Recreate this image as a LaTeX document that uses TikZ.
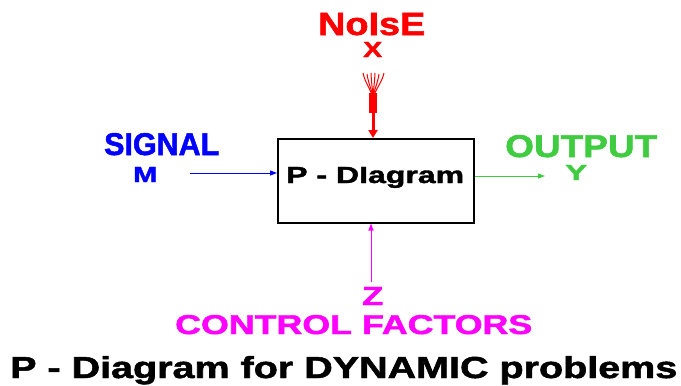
\documentclass[tikz,border=0pt]{standalone}
\usepackage{fontspec}
\setmainfont{Liberation Sans}
\newfontfamily\heavyfont[FakeBold=1.6]{Liberation Sans Bold}
\usetikzlibrary{arrows.meta,calc}
\definecolor{sigblue}{RGB}{0,0,255}
\definecolor{noisered}{RGB}{255,0,0}
\definecolor{outgreen}{RGB}{64,204,64}
\definecolor{ctrlmag}{RGB}{255,0,255}
\newcommand{\fitbox}[3]{\resizebox{#1pt}{#2pt}{\heavyfont #3}}
\begin{document}
\begin{tikzpicture}[x=1pt,y=-1pt,
  lbl/.style={inner sep=0pt, anchor=base west},
  conn/.style={line width=1pt, -{Triangle[length=7pt,width=5pt]}},
  fan/.style={noisered, line width=1pt},
  ]
\useasboundingbox (0,0) rectangle (681,386);
% main box
\node[draw, line width=1.5pt, minimum width=196pt, minimum height=84pt, inner sep=0pt, anchor=north west] (box) at (277,138) {};
\node[lbl] (boxlabel) at (286,183) {\fitbox{178}{16}{P - DIagram}};
% noise
\node[lbl, text=noisered] (noise) at (318,35) {\fitbox{107}{22}{NoIsE}};
\node[lbl, text=noisered] (x) at (363,57) {\fitbox{19}{15}{X}};
\coordinate (noisetop) at (373,73);
\foreach \dx/\dy in {-10/0,-6/1,-2/0,2/0,6/1,11/0}{
  \draw[fan] ($(noisetop)+(\dx,\dy)$) .. controls ($(noisetop)+(0.8*\dx,10)$) and ($(noisetop)+(0.2*\dx,16)$) .. ($(noisetop)+(0,26)$);
}
\draw[noisered, line width=8pt] ($(noisetop)+(0,20)$) -- ($(noisetop)+(0,40)$);
\draw[noisered, line width=3pt, -{Triangle[length=8pt,width=9pt]}] ($(noisetop)+(0,40)$) -- (noisetop |- box.north);
% signal
\node[lbl, text=sigblue] (signal) at (104,155) {\fitbox{115}{22}{SIGNAL}};
\node[lbl, text=sigblue] (m) at (133,182) {\fitbox{24}{15}{M}};
\coordinate (sigstart) at (190,173);
\draw[conn, sigblue] (sigstart) -- (sigstart -| box.west);
% output
\node[lbl, text=outgreen] (output) at (505,157) {\fitbox{152}{22}{OUTPUT}};
\node[lbl, text=outgreen] (y) at (565,180) {\fitbox{22}{15}{Y}};
\coordinate (outend) at (545,176);
\draw[conn, outgreen] (outend -| box.east) -- (outend);
% control
\node[lbl, text=ctrlmag] (z) at (362,305) {\fitbox{21}{18}{Z}};
\node[lbl, text=ctrlmag] (control) at (175,334) {\fitbox{357}{19}{CONTROL FACTORS}};
\coordinate (ctrlstart) at (371,282);
\draw[conn, ctrlmag] (ctrlstart) -- (ctrlstart |- box.south);
% title
\node[lbl] (title) at (10,378) {\fitbox{667}{22}{P - Diagram for DYNAMIC problems}};
\end{tikzpicture}
\end{document}
